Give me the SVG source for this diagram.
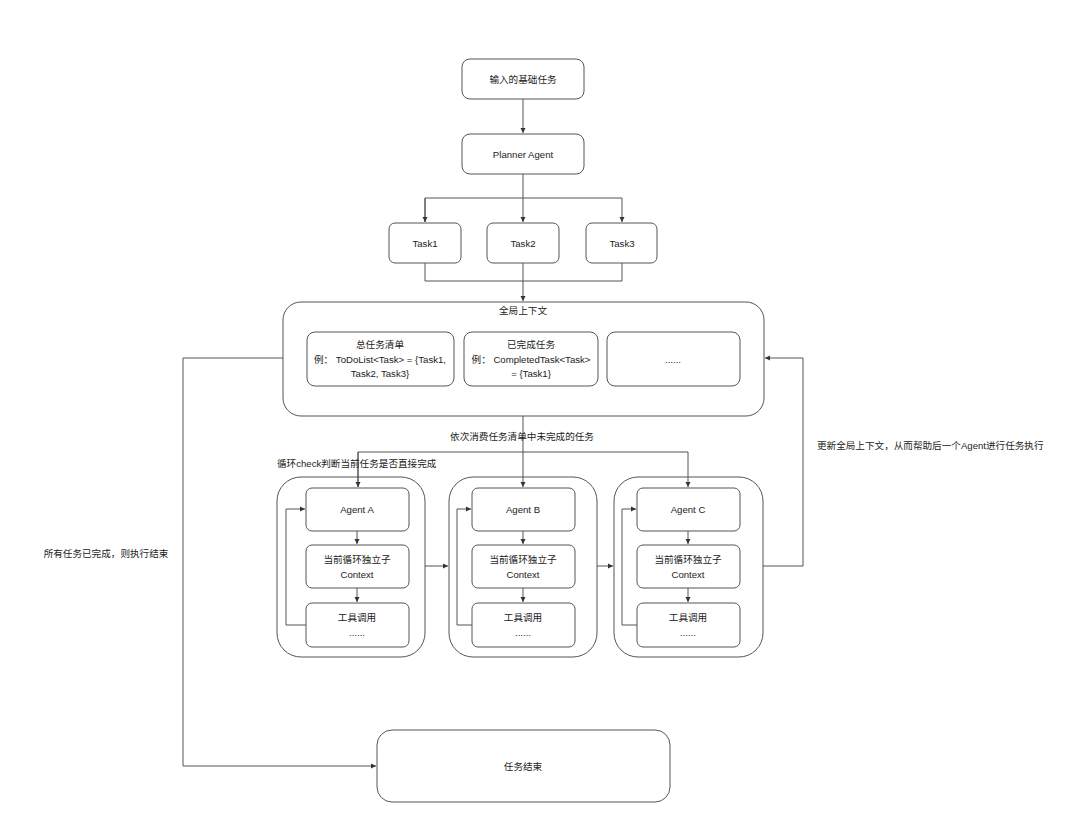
<svg xmlns="http://www.w3.org/2000/svg" width="1080" height="831" viewBox="0 0 1080 831">
<style>
.n{fill:#fff;stroke:#555;stroke-width:1}
.c{fill:none;stroke:#555;stroke-width:1}
text{font-family:"Liberation Sans","Noto Sans CJK SC",sans-serif;font-size:9.6px;fill:#222;text-anchor:middle}
.l{text-anchor:start}
</style>
<defs>
<marker id="a" markerWidth="6" markerHeight="6" refX="5" refY="3" orient="auto" markerUnits="userSpaceOnUse">
<path d="M0,0.5 L5,3 L0,5.5 Z" fill="#333"/>
</marker>
</defs>
<rect width="1080" height="831" fill="#fff"/>

<g id="input"><rect class="n" x="462" y="59" width="122" height="40" rx="8"/><text x="523" y="83">输入的基础任务</text></g>
<g id="planner"><rect class="n" x="462" y="134" width="122" height="40" rx="8"/><text x="523" y="158">Planner Agent</text></g>
<g id="task1"><rect class="n" x="389" y="223" width="72" height="40" rx="6"/><text x="425" y="247">Task1</text></g>
<g id="task2"><rect class="n" x="487" y="223" width="72" height="40" rx="6"/><text x="523" y="247">Task2</text></g>
<g id="task3"><rect class="n" x="586" y="223" width="71" height="40" rx="6"/><text x="622" y="247">Task3</text></g>

<g id="global">
<rect class="n" x="283" y="302" width="481" height="114" rx="18"/>
<text x="523" y="314">全局上下文</text>
</g>
<g id="todo"><rect class="n" x="307" y="332" width="147" height="54" rx="8"/>
<text x="380" y="348">总任务清单</text>
<text x="380" y="363">例：  ToDoList&lt;Task&gt; = {Task1,</text>
<text x="380" y="377">Task2, Task3}</text></g>
<g id="done"><rect class="n" x="464" y="332" width="134" height="54" rx="8"/>
<text x="531" y="348">已完成任务</text>
<text x="531" y="363">例：  CompletedTask&lt;Task&gt;</text>
<text x="531" y="377">= {Task1}</text></g>
<g id="more"><rect class="n" x="607" y="332" width="133" height="54" rx="8"/><text x="673" y="363">......</text></g>

<g id="groupA"><rect class="n" x="277" y="477" width="148" height="180" rx="24"/></g>
<g id="groupB"><rect class="n" x="449" y="477" width="148" height="180" rx="24"/></g>
<g id="groupC"><rect class="n" x="614" y="477" width="149" height="180" rx="24"/></g>

<g id="agentA"><rect class="n" x="306" y="488" width="103" height="43" rx="6"/><text x="357" y="513">Agent A</text></g>
<g id="ctxA"><rect class="n" x="306" y="545" width="103" height="43" rx="6"/><text x="357" y="563">当前循环独立子</text><text x="357" y="578">Context</text></g>
<g id="toolA"><rect class="n" x="306" y="603" width="103" height="44" rx="6"/><text x="357" y="621">工具调用</text><text x="357" y="636">......</text></g>

<g id="agentB"><rect class="n" x="472" y="488" width="103" height="43" rx="6"/><text x="523" y="513">Agent B</text></g>
<g id="ctxB"><rect class="n" x="472" y="545" width="103" height="43" rx="6"/><text x="523" y="563">当前循环独立子</text><text x="523" y="578">Context</text></g>
<g id="toolB"><rect class="n" x="472" y="603" width="103" height="44" rx="6"/><text x="523" y="621">工具调用</text><text x="523" y="636">......</text></g>

<g id="agentC"><rect class="n" x="637" y="488" width="103" height="43" rx="6"/><text x="688" y="513">Agent C</text></g>
<g id="ctxC"><rect class="n" x="637" y="545" width="103" height="43" rx="6"/><text x="688" y="563">当前循环独立子</text><text x="688" y="578">Context</text></g>
<g id="toolC"><rect class="n" x="637" y="603" width="103" height="44" rx="6"/><text x="688" y="621">工具调用</text><text x="688" y="636">......</text></g>

<g id="end"><rect class="n" x="377" y="730" width="293" height="72" rx="15"/><text x="523" y="770">任务结束</text></g>

<g id="connectors">
<path class="c" d="M523,99 V133" marker-end="url(#a)"/>
<path class="c" d="M523,174 V222" marker-end="url(#a)"/>
<path class="c" d="M425,222 V198 H622 V222" marker-end="url(#a)"/>
<path class="c" d="M425,198 V222" marker-end="url(#a)"/>
<path class="c" d="M425,263 V281 H622 V263"/>
<path class="c" d="M523,263 V301" marker-end="url(#a)"/>
<path class="c" d="M523,416 V487" marker-end="url(#a)"/>
<path class="c" d="M358,487 V452 H688 V487" marker-end="url(#a)"/>
<path class="c" d="M358,452 V487" marker-end="url(#a)"/>
<path class="c" d="M357,531 V544" marker-end="url(#a)"/>
<path class="c" d="M357,588 V602" marker-end="url(#a)"/>
<path class="c" d="M306,625 H286 V509 H305" marker-end="url(#a)"/>
<path class="c" d="M523,531 V544" marker-end="url(#a)"/>
<path class="c" d="M523,588 V602" marker-end="url(#a)"/>
<path class="c" d="M472,625 H457 V509 H471" marker-end="url(#a)"/>
<path class="c" d="M688,531 V544" marker-end="url(#a)"/>
<path class="c" d="M688,588 V602" marker-end="url(#a)"/>
<path class="c" d="M637,625 H622 V509 H636" marker-end="url(#a)"/>
<path class="c" d="M425,566 H448" marker-end="url(#a)"/>
<path class="c" d="M597,566 H613" marker-end="url(#a)"/>
<path class="c" d="M763,566 H803 V358 H765" marker-end="url(#a)"/>
<path class="c" d="M283,358 H183 V766 H376" marker-end="url(#a)"/>
<text x="522" y="440">依次消费任务清单中未完成的任务</text>
<text class="l" x="277" y="467">循环check判断当前任务是否直接完成</text>
<text x="106" y="557">所有任务已完成，则执行结束</text>
<text class="l" x="817" y="449">更新全局上下文，从而帮助后一个Agent进行任务执行</text>
</g>
</svg>
